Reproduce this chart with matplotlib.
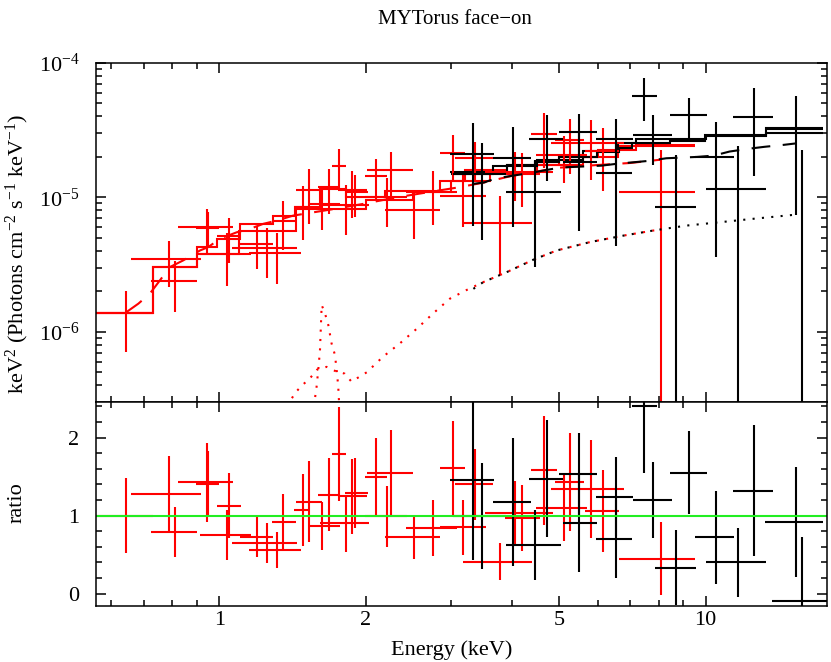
import numpy as np
import matplotlib
matplotlib.use('Agg')
import matplotlib.pyplot as plt
from matplotlib.ticker import FixedLocator, NullFormatter, FixedFormatter, MultipleLocator

plt.rcParams['font.family'] = ['Liberation Serif', 'DejaVu Serif']
plt.rcParams['mathtext.fontset'] = 'custom'
plt.rcParams['mathtext.rm'] = 'Liberation Serif'
plt.rcParams['mathtext.it'] = 'Liberation Serif:italic'
plt.rcParams['mathtext.bf'] = 'Liberation Serif:bold'

# ---------------- red data (energy bins, flux, ratio, ratio error) ----------------
red_elo = [0.55, 0.658, 0.724, 0.823, 0.896, 0.913, 0.989, 1.103, 1.060, 1.151, 1.284, 1.426, 1.438,
           1.524, 1.598, 1.702, 1.611, 1.754, 1.813, 1.992, 1.992, 2.008, 2.192, 2.420, 2.844, 2.844,
           3.052, 3.170, 3.514, 3.86, 4.37, 4.48, 4.90, 4.82, 5.64, 6.64]
red_ehi = [0.730, 0.917, 0.899, 1.068, 0.999, 1.162, 1.108, 1.289, 1.443, 1.470, 1.438, 1.524, 1.624,
           1.771, 1.756, 1.821, 2.031, 2.008, 2.021, 2.209, 2.427, 2.497, 2.844, 3.076, 3.200, 3.542,
           3.646, 4.39, 4.86, 4.56, 4.94, 5.69, 5.62, 6.79, 6.64, 9.51]
red_ec = [0.644, 0.788, 0.811, 0.943, 0.947, 1.037, 1.048, 1.197, 1.253, 1.314, 1.354, 1.484, 1.527,
          1.624, 1.679, 1.760, 1.821, 1.873, 1.902, 2.101, 2.209, 2.251, 2.513, 2.745, 3.017, 3.170,
          3.352, 3.775, 4.058, 4.19, 4.65, 5.11, 5.26, 5.81, 6.15, 8.08]
red_flux = [1.37e-6, 3.46e-6, 2.38e-6, 6.0e-6, 5.95e-6, 3.8e-6, 5.13e-6, 4.52e-6, 4.19e-6, 3.85e-6,
            6.7e-6, 8.5e-6, 1.135e-5, 8.9e-6, 1.19e-5, 1.72e-5, 8.8e-6, 1.135e-5, 1.09e-5, 1.445e-5,
            1.0e-5, 1.6e-5, 8.07e-6, 1.096e-5, 2.12e-5, 1.03e-5, 1.96e-5, 6.4e-6, 1.55e-5, 1.5e-5,
            2.95e-5, 2.05e-5, 2.67e-5, 2.55e-5, 2.2e-5, 1.09e-5]
red_ratio = [1.00, 1.28, 0.787, 1.43, 1.41, 0.753, 1.128, 0.73, 0.65, 0.56, 0.92, 1.07, 1.18, 0.87,
             1.27, 1.79, 0.90, 1.25, 1.29, 1.49, 0.99, 1.54, 0.72, 0.84, 1.61, 0.85, 1.40, 0.41, 1.03,
             0.97, 1.58, 1.10, 1.43, 1.34, 1.06, 0.45]
red_rerr = [0.48, 0.48, 0.32, 0.506, 0.42, 0.32, 0.417, 0.256, 0.26, 0.23, 0.36, 0.46, 0.52, 0.31,
            0.47, 0.60, 0.36, 0.48, 0.45, 0.50, 0.39, 0.56, 0.28, 0.36, 0.60, 0.35, 0.45, 0.24, 0.41,
            0.42, 0.70, 0.42, 0.63, 0.63, 0.52, 0.47]

# ---------------- black data ----------------
blk_elo = [2.982, 3.024, 3.652, 3.895, 4.33, 4.99, 5.09, 5.95, 5.95, 7.04, 7.09, 7.87, 8.45, 9.51,
           10.01, 11.39, 13.24, 13.67]
blk_ehi = [3.670, 3.895, 4.37, 5.04, 5.09, 5.97, 5.97, 7.09, 7.04, 7.93, 8.52, 9.55, 10.08, 11.45,
           13.30, 13.73, 17.40, 18.0]
blk_ec = [3.325, 3.476, 4.010, 4.45, 4.72, 5.49, 5.49, 6.53, 6.53, 7.47, 7.80, 8.69, 9.25, 10.49,
          11.67, 12.55, 15.31, 15.75]
blk_flux = [2.09e-5, 1.50e-5, 1.96e-5, 1.10e-5, 2.71e-5, 3.07e-5, 1.82e-5, 2.73e-5, 1.51e-5, 5.67e-5,
            2.92e-5, 8.4e-6, 4.1e-5, 1.98e-5, 1.15e-5, 3.98e-5, 3.21e-5, -2.8e-6]
blk_ratio = [1.46, 1.00, 1.18, 0.62, 1.47, 1.535, 0.90, 1.245, 0.70, 2.40, 1.20, 0.333, 1.55, 0.72,
             0.40, 1.32, 0.915, -0.09]
blk_rerr = [1.03, 0.68, 0.82, 0.45, 0.75, 0.53, 0.62, 0.50, 0.50, 0.85, 0.49, 0.48, 0.53, 0.59, 0.44,
            0.84, 0.705, 0.81]

# ---------------- model step histograms ----------------
redA_edges = [0.558, 0.730, 0.899, 0.989, 1.103, 1.289, 1.431, 1.611, 1.82, 2.19, 2.84, 3.2, 3.9, 5.0,
              6.0, 7.2, 9.51]
redA_vals = [1.374e-6, 3.02e-6, 4.27e-6, 4.94e-6, 6.35e-6, 7.31e-6, 8.53e-6, 1.153e-5, 1.0e-5,
             1.122e-5, 1.33e-5, 1.585e-5, 1.738e-5, 1.995e-5, 2.239e-5, 2.455e-5]
redB_edges = [0.558, 0.730, 0.899, 1.10, 1.44, 2.0, 2.5, 3.0, 3.6, 4.5, 5.6, 6.6, 9.51]
redB_vals = [1.374e-6, 3.02e-6, 3.80e-6, 5.62e-6, 8.13e-6, 9.55e-6, 1.096e-5, 1.318e-5, 1.514e-5,
             1.738e-5, 1.995e-5, 2.399e-5]
blkA_edges = [2.98, 3.9, 4.45, 5.0, 5.97, 6.64, 7.04, 8.45, 9.97, 13.3, 17.4]
blkA_vals = [1.549e-5, 1.746e-5, 1.82e-5, 1.995e-5, 2.188e-5, 2.344e-5, 2.512e-5, 2.63e-5, 2.917e-5,
             2.979e-5]
blkB_edges = [3.0, 3.65, 4.5, 5.6, 6.6, 7.2, 10.0, 13.3, 17.4]
blkB_vals = [1.479e-5, 1.698e-5, 1.905e-5, 2.213e-5, 2.512e-5, 2.71e-5, 2.851e-5, 3.266e-5]

# ---------------- model components ----------------
red_dash_e = [0.645, 0.682, 0.720, 0.792, 0.843, 0.913, 0.949, 1.003, 1.086, 1.157, 1.232, 1.313, 1.419,
              1.70, 1.97, 2.32, 2.71, 3.12, 3.5, 4.0, 5.0, 6.0, 7.0, 8.1]
red_dash_v = [1.406e-6, 1.622e-6, 1.923e-6, 3.034e-6, 3.396e-6, 4.027e-6, 4.266e-6, 4.92e-6, 5.495e-6,
              5.834e-6, 6.353e-6, 6.714e-6, 7.311e-6, 8.128e-6, 8.913e-6, 1.0e-5, 1.096e-5, 1.189e-5,
              1.288e-5, 1.445e-5, 1.660e-5, 1.738e-5, 1.799e-5, 1.905e-5]
blk_dash_e = [3.33, 3.5, 3.7, 4.0, 4.35, 5.0, 5.3, 6.1, 6.6, 7.1, 7.6, 8.3, 9.6, 10.4, 11.2, 12.4, 13.2,
              14.5, 15.3]
blk_dash_v = [1.259e-5, 1.288e-5, 1.380e-5, 1.445e-5, 1.514e-5, 1.660e-5, 1.679e-5, 1.718e-5, 1.778e-5,
              1.820e-5, 1.862e-5, 1.950e-5, 1.995e-5, 2.042e-5, 2.188e-5, 2.307e-5, 2.371e-5, 2.455e-5,
              2.512e-5]
red_dot_e = [1.38, 1.43, 1.477, 1.536, 1.59, 1.662, 1.73, 1.81, 1.87, 2.01, 2.17, 2.35, 2.55, 2.75, 2.98,
             3.22, 3.49, 3.9, 4.42, 4.94, 5.78, 6.79, 7.8, 8.1]
red_dot_v = [2.8e-7, 3.50e-7, 3.98e-7, 4.52e-7, 5.25e-7, 5.50e-7, 5.13e-7, 4.90e-7, 4.27e-7, 5.01e-7,
             6.53e-7, 8.20e-7, 1.059e-6, 1.368e-6, 1.766e-6, 2.042e-6, 2.344e-6, 2.780e-6, 3.436e-6,
             4.027e-6, 4.645e-6, 5.200e-6, 5.662e-6, 5.754e-6]
line_dot_e = [1.565, 1.585, 1.598, 1.611, 1.624, 1.650, 1.676, 1.702, 1.729, 1.743, 1.756, 1.765]
line_dot_v = [2.8e-7, 3.89e-7, 5.2e-7, 7.31e-7, 1.585e-6, 1.368e-6, 1.122e-6, 8.2e-7, 6.76e-7, 5.25e-7,
              3.98e-7, 2.8e-7]
blk_dot_e = [3.33, 3.49, 3.9, 4.42, 4.94, 5.78, 6.79, 7.8, 9.14, 10.7, 12.5, 15.2]
blk_dot_v = [2.089e-6, 2.344e-6, 2.780e-6, 3.436e-6, 4.027e-6, 4.645e-6, 5.2e-6, 5.662e-6, 6.166e-6,
             6.531e-6, 6.918e-6, 7.413e-6]

x_major = [1, 2, 5, 10]
x_major_labels = ['1', '2', '5', '10']
x_minor = [0.6, 0.7, 0.8, 0.9, 3, 4, 6, 7, 8, 9]
y_major = [1e-6, 1e-5, 1e-4]
y_major_labels = [r'$10^{-6}$', r'$10^{-5}$', r'$10^{-4}$']

RED = '#ff0000'
BLK = '#000000'
LW = 1.5

fig = plt.figure(figsize=(8.31, 6.62), dpi=100)
ax1 = fig.add_axes([0.11552, 0.39320, 0.87967, 0.51209])
ax2 = fig.add_axes([0.11552, 0.08505, 0.87967, 0.30815])


def draw_data(elo, ehi, ec, flux, ratio, rerr, color):
    for lo, hi, c, f, r, e in zip(elo, ehi, ec, flux, ratio, rerr):
        m = f / r
        fe = abs(e * m)
        bottom = max(f - fe, 1e-12)
        ax1.vlines(c, bottom, f + fe, color=color, lw=LW, capstyle='butt')
        if f > 0:
            ax1.hlines(f, lo, hi, color=color, lw=LW, capstyle='butt')
        ax2.vlines(c, r - e, r + e, color=color, lw=LW, capstyle='butt')
        ax2.hlines(r, lo, hi, color=color, lw=LW, capstyle='butt')


dot = (0, (1.0, 3.5))
dash = (0, (9, 6))

# red group
draw_data(red_elo, red_ehi, red_ec, red_flux, red_ratio, red_rerr, RED)
ax1.stairs(redA_vals, redA_edges, baseline=None, color=RED, lw=LW)
ax1.stairs(redB_vals, redB_edges, baseline=None, color=RED, lw=LW)
ax1.plot(red_dash_e, red_dash_v, color=RED, lw=LW, linestyle=dash)
ax1.plot(red_dot_e, red_dot_v, color=RED, lw=LW, linestyle=dot)
ax1.plot(line_dot_e, line_dot_v, color=RED, lw=LW, linestyle=dot)

# black group
draw_data(blk_elo, blk_ehi, blk_ec, blk_flux, blk_ratio, blk_rerr, BLK)
ax1.stairs(blkA_vals, blkA_edges, baseline=None, color=BLK, lw=LW)
ax1.stairs(blkB_vals, blkB_edges, baseline=None, color=BLK, lw=LW)
ax1.plot(blk_dash_e, blk_dash_v, color=BLK, lw=LW, linestyle=dash)
ax1.plot(blk_dot_e, blk_dot_v, color=BLK, lw=LW, linestyle=dot)

ax2.axhline(1.0, color='#22ee22', lw=LW)

xlim = (0.558, 17.76)
for ax in (ax1, ax2):
    ax.set_xscale('log')
    ax.set_xlim(*xlim)
    ax.xaxis.set_major_locator(FixedLocator(x_major))
    ax.xaxis.set_minor_locator(FixedLocator(x_minor))
    ax.xaxis.set_minor_formatter(NullFormatter())
    ax.tick_params(which='both', direction='in', top=True, right=True, width=1.1,
                   labelsize=16)
    ax.tick_params(which='major', length=7.5)
    ax.tick_params(which='minor', length=4.5)
    ax.tick_params(axis='x', pad=4)
    ax.tick_params(axis='y', pad=12)
    for s in ax.spines.values():
        s.set_linewidth(1.1)

ax1.set_yscale('log')
ax1.set_ylim(3.03e-7, 1e-4)
ax1.yaxis.set_major_locator(FixedLocator(y_major))
ax1.yaxis.set_major_formatter(FixedFormatter(y_major_labels))
ax1.yaxis.set_minor_formatter(NullFormatter())
ax1.xaxis.set_major_formatter(NullFormatter())

ax2.set_ylim(-0.154, 2.46)
ax2.yaxis.set_major_locator(FixedLocator([0, 1, 2]))
ax2.yaxis.set_minor_locator(MultipleLocator(0.2))
ax2.xaxis.set_major_formatter(FixedFormatter(x_major_labels))

fig.text(455 / 831, 1 - 20 / 662, 'MYTorus face\u2212on', ha='center', va='center', fontsize=15)
fig.text(452 / 831, 1 - 650 / 662, 'Energy (keV)', ha='center', va='center', fontsize=16)
fig.text(17 / 831, 1 - 254 / 662,
         r'keV$^{2}$ (Photons cm$^{-2}$ s$^{-1}$ keV$^{-1}$)',
         ha='center', va='center', rotation=90, fontsize=16)
fig.text(17 / 831, 1 - 503 / 662, 'ratio', ha='center', va='center', rotation=90, fontsize=16)

fig.savefig('out.png', dpi=100)
